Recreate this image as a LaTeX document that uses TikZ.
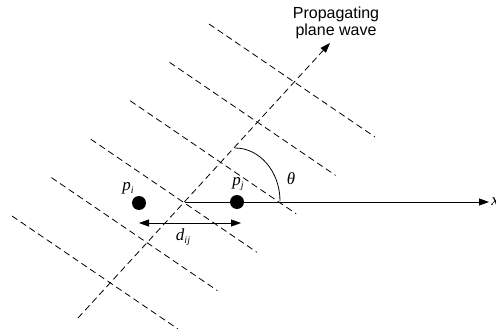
\documentclass[tikz,border=0pt]{standalone}
\usepackage{fontspec}
\setmainfont{Liberation Sans}
\newfontfamily\tms{Liberation Serif}
\usetikzlibrary{arrows.meta,calc}
\newcommand{\sym}[2]{{\tms\itshape #1\raisebox{-3pt}{\fontsize{10}{10}\selectfont #2}}}
\begin{document}
\begin{tikzpicture}[x=1pt,y=-1pt,
  every path/.style={line width=0.8pt},
  wave/.style={dash pattern=on 6.5pt off 4pt},
  tip/.style={-{Triangle[length=10pt,width=7pt]}},
  dtip/.style={{Triangle[length=10pt,width=7pt]}-{Triangle[length=10pt,width=7pt]}},
  dot/.style={circle, fill=black, minimum size=14pt, inner sep=0pt},
  lbl/.style={font=\fontsize{16}{17}\selectfont, inner sep=0pt},
  mlbl/.style={font=\fontsize{17}{18}\selectfont, inner sep=0pt},
]
\useasboundingbox (0,0) rectangle (496,329);
% wave fronts
\foreach \i in {0,...,5} {
  \draw[wave] ($(209,24)+\i*(-39.4,38.4)$) -- ++(166,113);
}
% propagation direction
\coordinate (S) at (78,318);
\coordinate (T) at (330,43);
\draw[wave,tip] (S) -- (T);
\node[lbl, align=center] (title) at (336,23) {Propagating\\plane wave};
% x axis
\coordinate (O) at (185,202);
\coordinate (X) at (489,202);
\draw[tip] (O) -- (X);
\node[mlbl, anchor=west] (xl) at (491,203) {\sym{x}{}};
% sensors
\node[dot] (pi) at (139,203) {};
\node[dot] (pj) at (237,202) {};
\node[mlbl] (lpi) at (128,188) {\sym{p}{i}};
\node[mlbl] (lpj) at (238,184) {\sym{p}{j}};
% distance
\coordinate (da) at (139,223);
\coordinate (db) at (241,223);
\draw[dtip] (da) -- (db);
\node[mlbl] (ldij) at (183,237) {\sym{d}{ij}};
% angle
\coordinate (A1) at (235,148);
\draw (A1) arc[start angle=90, end angle=0, x radius=45pt, y radius=53pt];
\node[mlbl] (lth) at (291,180) {\sym{θ}{}};
\end{tikzpicture}
\end{document}
